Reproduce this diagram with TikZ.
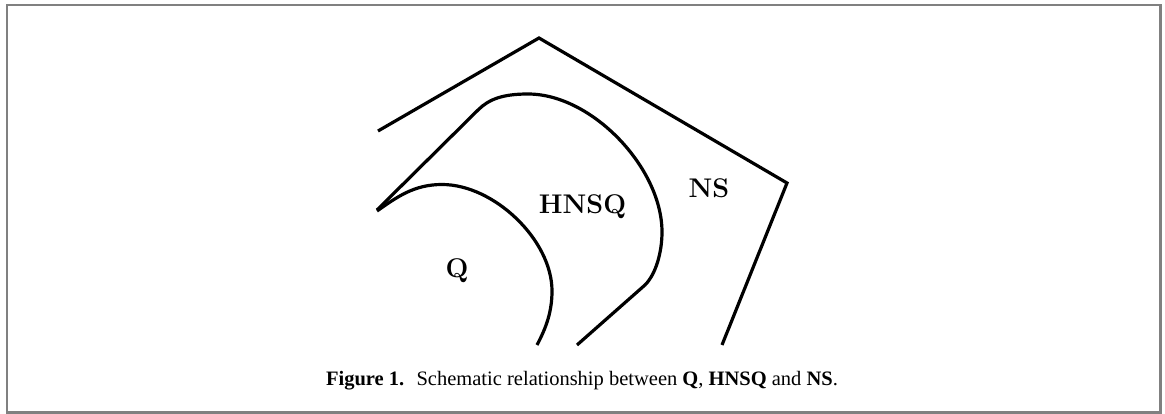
\documentclass[tikz,border=0pt]{standalone}
\usepackage{fontspec}
\newfontfamily\capfont{Liberation Serif}
\tikzset{
  curve/.style={line width=3.2pt, black, line cap=butt},
  region/.style={font=\fontsize{27}{27}\selectfont\bfseries, inner sep=0pt, anchor=base},
  caption/.style={font=\capfont\fontsize{20.5}{21}\selectfont, inner sep=0pt, anchor=base},
  frame/.style={draw=black!50, line width=2.5pt}
}
\begin{document}
\begin{tikzpicture}[x=1pt,y=-1pt]
\useasboundingbox (0,0) rectangle (1165,414);
\fill[white] (0,0) rectangle (1165,414);
\draw[frame] (7,5) rectangle (1160.5,412.5);
% NS boundary (pentagon part)
\draw[curve] (378,131) -- (539,38) -- (787,183) -- (722,345);
% HNSQ boundary
\draw[curve] (377,210) -- (478,110) .. controls (489,99) and (503,94) .. (528,94)
  .. controls (592,94) and (662,168) .. (662,232)
  .. controls (662,252) and (656,274) .. (645,285) -- (577,345);
% Q boundary
\draw[curve] (377,211) .. controls (397,197) and (414,184.5) .. (442,184.5)
  .. controls (494,184.5) and (552,240) .. (552,291)
  .. controls (552,312) and (546,328) .. (537,345);
% labels
\node[region] (q) at (457,277) {Q};
\node[region] (hnsq) at (582.5,214) {HNSQ};
\node[region] (ns) at (709,198) {NS};
\node[caption] (cap) at (582,385) {\textbf{Figure 1.}\hspace{0.6em}Schematic relationship between \textbf{Q}, \textbf{HNSQ} and \textbf{NS}.};
\end{tikzpicture}
\end{document}
